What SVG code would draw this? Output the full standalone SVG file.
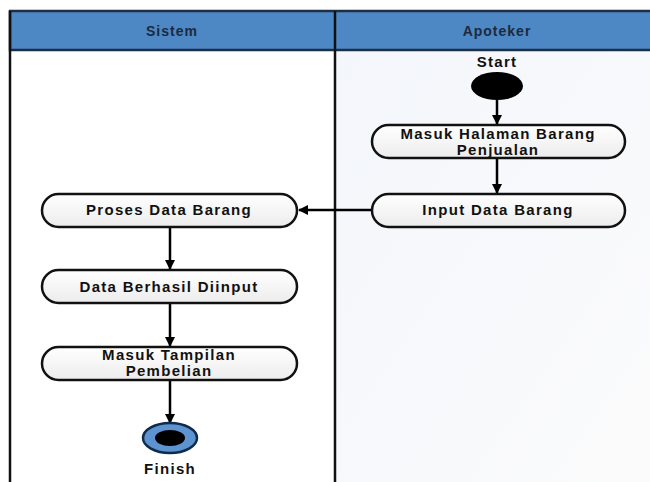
<svg xmlns="http://www.w3.org/2000/svg" width="650" height="482" viewBox="0 0 650 482">
<defs>
<linearGradient id="nodeFill" x1="0" y1="0" x2="0" y2="1">
<stop offset="0" stop-color="#ffffff"/>
<stop offset="1" stop-color="#ececec"/>
</linearGradient>
<linearGradient id="laneR" x1="0" y1="0" x2="1" y2="1">
<stop offset="0" stop-color="#f3f6fb"/>
<stop offset="1" stop-color="#fbfbfb"/>
</linearGradient>
<marker id="arrow" viewBox="0 0 10 10" refX="9" refY="5" markerWidth="10" markerHeight="10" markerUnits="userSpaceOnUse" orient="auto">
<path d="M0,0 L10,5 L0,10 z" fill="#000"/>
</marker>
</defs>
<style>
.lbl{font-family:"Liberation Sans",Arial,sans-serif;font-weight:bold;font-size:15px;fill:#111;text-anchor:middle;letter-spacing:1.3px}
.hdr{font-family:"Liberation Sans",Arial,sans-serif;font-weight:bold;font-size:14px;fill:#1c2a3e;text-anchor:middle;letter-spacing:1px}
.node{fill:url(#nodeFill);stroke:#111;stroke-width:2.5}
.conn{stroke:#000;stroke-width:2.5;fill:none;marker-end:url(#arrow)}
</style>
<rect width="650" height="482" fill="#ffffff"/>
<g id="lanes">
<rect x="10" y="11" width="325" height="471" fill="#ffffff"/>
<rect x="335" y="11" width="315" height="471" fill="url(#laneR)"/>
<rect x="10" y="11" width="660" height="39" fill="#4d87c4" stroke="#1d2f45" stroke-width="2.5"/>
<line x1="10" y1="11" x2="10" y2="482" stroke="#111" stroke-width="2.5"/>
<line x1="335" y1="11" x2="335" y2="482" stroke="#111" stroke-width="2.5"/>
<text class="hdr" x="172" y="36">Sistem</text>
<text class="hdr" x="497" y="36">Apoteker</text>
</g>
<g id="connectors">
<line class="conn" x1="497" y1="100" x2="497" y2="124"/>
<line class="conn" x1="497" y1="158" x2="497" y2="193"/>
<line class="conn" x1="372" y1="210" x2="299" y2="210"/>
<line class="conn" x1="170" y1="227" x2="170" y2="269"/>
<line class="conn" x1="170" y1="303" x2="170" y2="346"/>
<line class="conn" x1="170" y1="380" x2="170" y2="423"/>
</g>
<g id="start">
<text class="lbl" x="497" y="67">Start</text>
<ellipse cx="497" cy="86" rx="26" ry="14" fill="#000"/>
</g>
<g id="masuk-halaman">
<rect class="node" x="372" y="125" width="253" height="33" rx="16.5" ry="16.5"/>
<text class="lbl" x="498" y="139">Masuk Halaman Barang</text>
<text class="lbl" x="498" y="155">Penjualan</text>
</g>
<g id="input-data">
<rect class="node" x="372" y="194" width="253" height="33" rx="16.5" ry="16.5"/>
<text class="lbl" x="498" y="215">Input Data Barang</text>
</g>
<g id="proses-data">
<rect class="node" x="42" y="194" width="255" height="33" rx="16.5" ry="16.5"/>
<text class="lbl" x="169" y="215">Proses Data Barang</text>
</g>
<g id="data-berhasil">
<rect class="node" x="42" y="270" width="255" height="33" rx="16.5" ry="16.5"/>
<text class="lbl" x="169" y="292">Data Berhasil Diinput</text>
</g>
<g id="masuk-tampilan">
<rect class="node" x="42" y="347" width="255" height="33" rx="16.5" ry="16.5"/>
<text class="lbl" x="169" y="360">Masuk Tampilan</text>
<text class="lbl" x="169" y="376">Pembelian</text>
</g>
<g id="finish">
<ellipse cx="170" cy="438" rx="27" ry="15" fill="#5d93d0" stroke="#0f2a4a" stroke-width="2.5"/>
<ellipse cx="170" cy="438" rx="15" ry="8" fill="#000"/>
<text class="lbl" x="170" y="474">Finish</text>
</g>
</svg>
